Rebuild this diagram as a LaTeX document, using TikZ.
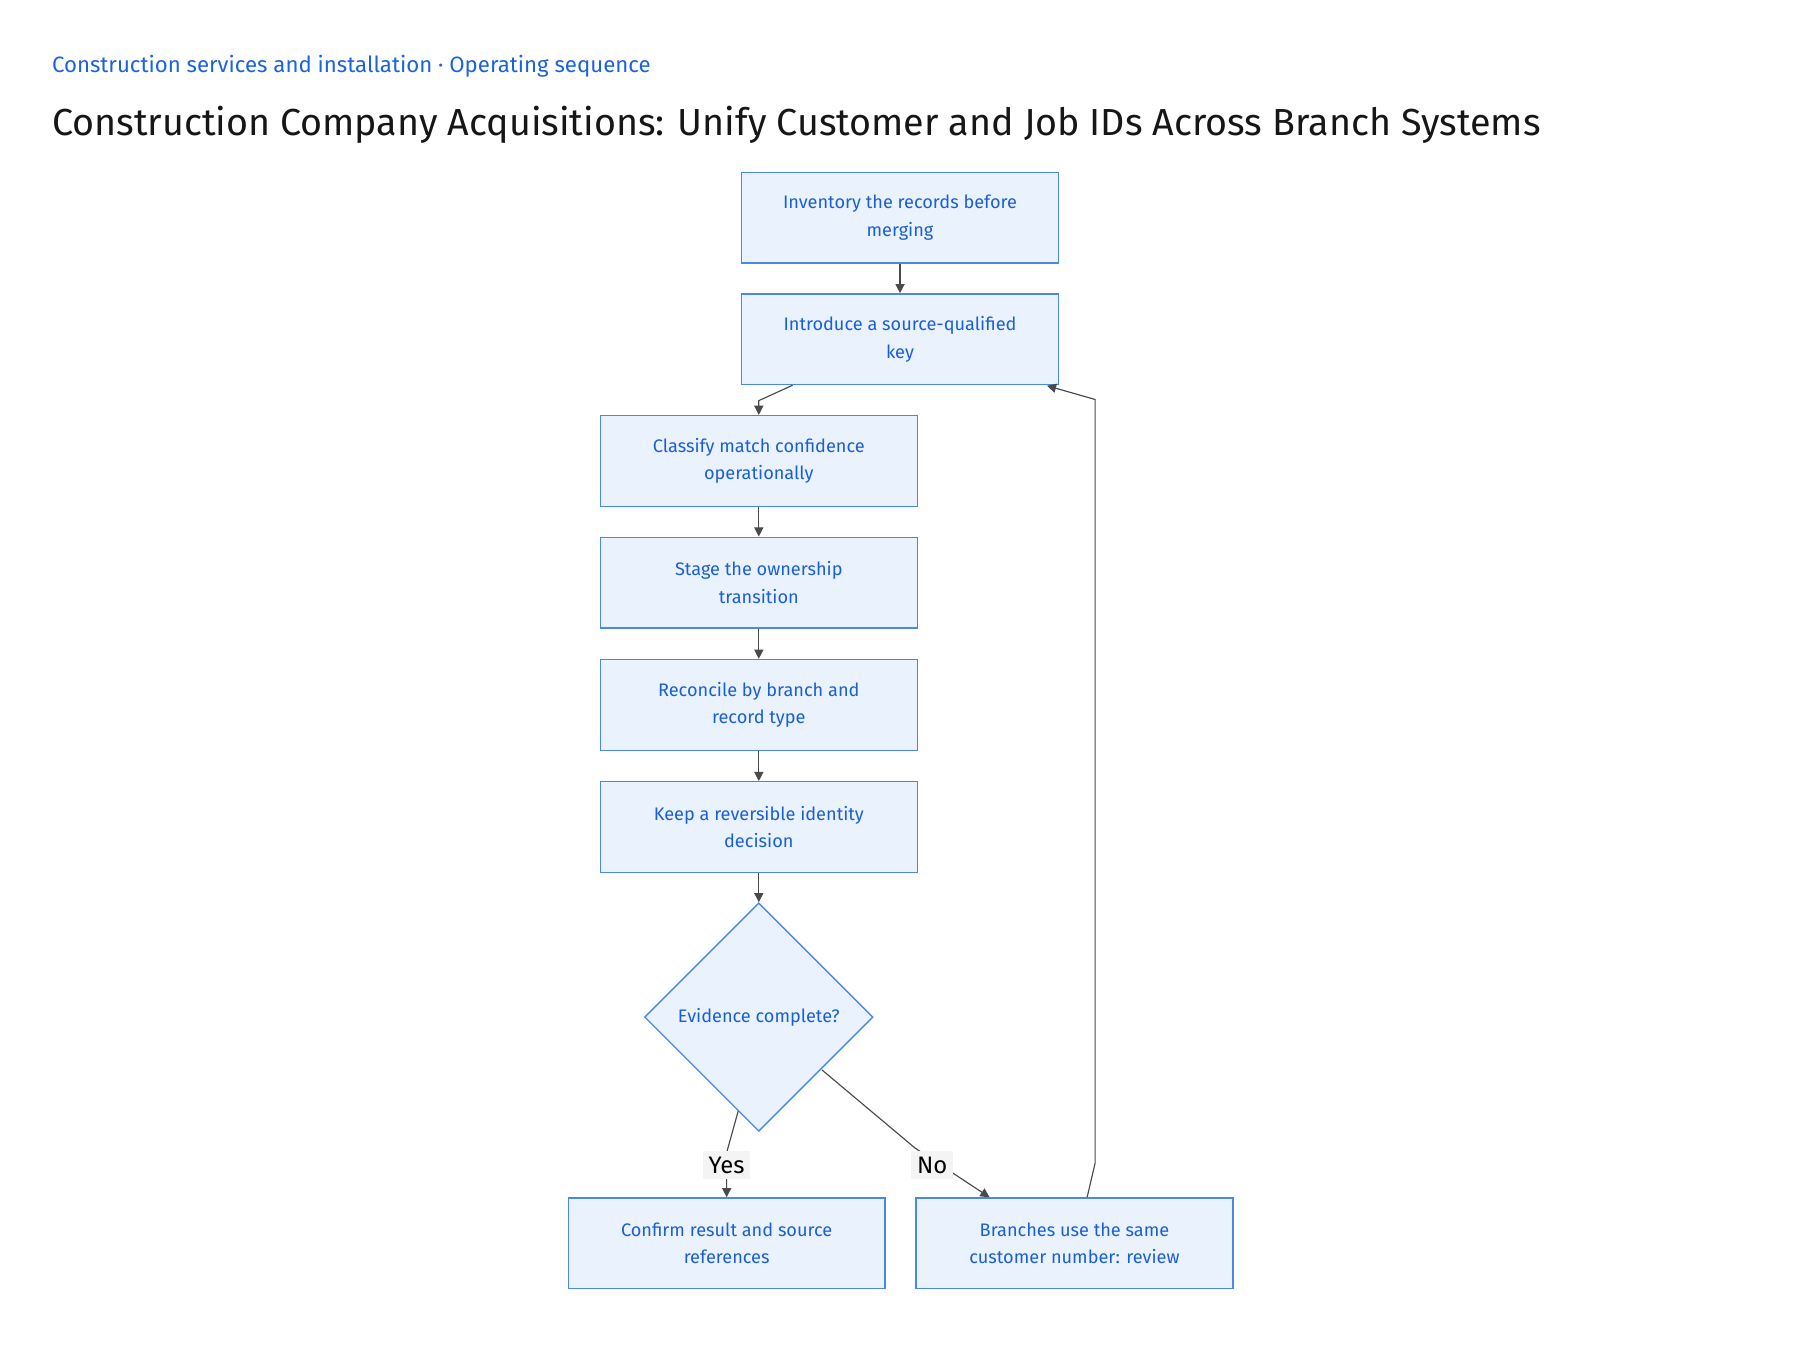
\documentclass[tikz,border=0pt]{standalone}
\usepackage{fontspec}
\setmainfont{Fira Sans}
\usetikzlibrary{arrows.meta,shapes.geometric,calc}
\definecolor{boxfill}{HTML}{EAF2FE}
\definecolor{boxline}{HTML}{4A88E6}
\definecolor{boxtext}{HTML}{1A5FD6}
\definecolor{subcol}{HTML}{1A62E0}
\definecolor{titlecol}{HTML}{161616}
\definecolor{arrcol}{HTML}{4A4A4A}
\definecolor{lblfill}{HTML}{F4F4F4}
\tikzset{
  stepbox/.style={draw=boxline, fill=boxfill, line width=0.6pt, minimum width=138pt, minimum height=39.5pt, inner sep=0pt, align=center, text=boxtext, font=\fontsize{7.9}{12}\selectfont},
  decbox/.style={draw=boxline, fill=boxfill, line width=0.6pt, diamond, aspect=1, minimum width=99.5pt, minimum height=99.5pt, inner sep=0pt, align=center, text=boxtext, font=\fontsize{7.9}{12}\selectfont},
  arr/.style={draw=arrcol, line width=0.5pt, -{Triangle[length=4pt,width=4pt]}},
  lbl/.style={fill=lblfill, text=black, inner sep=2.5pt, font=\fontsize{10.4}{12}\selectfont},
}
\begin{document}
\begin{tikzpicture}[x=0.5pt,y=-0.5pt]
\useasboundingbox (0,0) rectangle (1568,1176);
\node[anchor=west, text=subcol, font=\fontsize{9.67}{12}\selectfont, inner sep=0pt] (sub) at (45,58) {Construction services and installation · Operating sequence};
\node[anchor=west, text=titlecol, font=\fontsize{16.4}{19}\selectfont, inner sep=0pt] (title) at (45,109) {Construction Company Acquisitions: Unify Customer and Job IDs Across Branch Systems};

\node[stepbox] (n1) at (784,189.5) {Inventory the records before\\merging};
\node[stepbox] (n2) at (784,295.5) {Introduce a source-qualified\\key};
\node[stepbox] (n3) at (661,401.5) {Classify match confidence\\operationally};
\node[stepbox] (n4) at (661,507.5) {Stage the ownership\\transition};
\node[stepbox] (n5) at (661,614) {Reconcile by branch and\\record type};
\node[stepbox] (n6) at (661,720.5) {Keep a reversible identity\\decision};
\node[decbox] (d) at (661,886) {Evidence complete?};
\node[stepbox] (n7) at (633,1083) {Confirm result and source\\references};
\node[stepbox] (n8) at (936,1083) {Branches use the same\\customer number: review};

\coordinate (c23) at (661,349);
\coordinate (yesa) at (643,968);
\coordinate (yesb) at (633,1004);
\coordinate (noa) at (716,932);
\coordinate (nob) at (797,1000);
\coordinate (nend) at (862,1043);
\coordinate (ba) at (947,1043);
\coordinate (bb) at (954,1013);
\coordinate (bc) at (954,348);
\coordinate (bend) at (912,336);

\draw[arr] (n1) -- (n2);
\draw[arr] ($(n2.south west)+(45,0)$) -- (c23) -- (n3.north);
\draw[arr] (n3) -- (n4);
\draw[arr] (n4) -- (n5);
\draw[arr] (n5) -- (n6);
\draw[arr] (n6.south) -- (d.north);
\draw[arr] (yesa) -- (yesb) -- (yesb |- n7.north);
\draw[arr] (noa) -- (nob) -- (nend);
\draw[arr] (ba) -- (bb) -- (bc) -- (bend);
\node[lbl] (yes) at (633,1015) {Yes};
\node[lbl] (no) at (812,1015) {No};
\end{tikzpicture}
\end{document}
